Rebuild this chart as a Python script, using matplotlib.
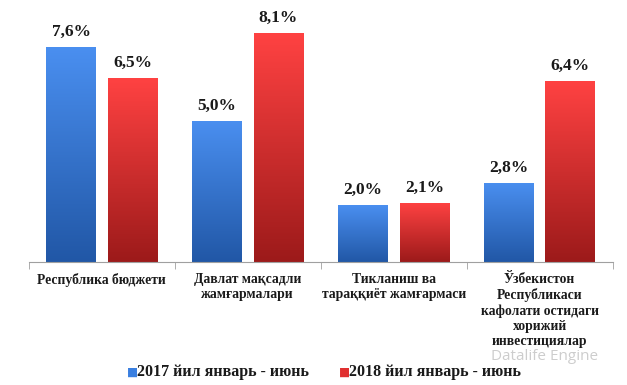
import matplotlib.pyplot as plt
import numpy as np
from matplotlib.colors import LinearSegmentedColormap

categories = ['Республика бюджети', 'Давлат мақсадли\nжамғармалари',
              'Тикланиш ва\nтараққиёт жамғармаси',
              'Ўзбекистон\nРеспубликаси\nкафолати остидаги\nхорижий\nинвестициялар']
values_2017 = [7.6, 5.0, 2.0, 2.8]
values_2018 = [6.5, 8.1, 2.1, 6.4]
labels_2017 = ['7,6%', '5,0%', '2,0%', '2,8%']
labels_2018 = ['6,5%', '8,1%', '2,1%', '6,4%']
series_names = ['2017 йил январь - июнь', '2018 йил январь - июнь']

blue_cmap = LinearSegmentedColormap.from_list('b', ['#2157a6', '#4a8ff0'])
red_cmap = LinearSegmentedColormap.from_list('r', ['#9c1a1a', '#ff4242'])

plt.rcParams['font.family'] = ['Liberation Serif', 'DejaVu Serif']

fig = plt.figure(figsize=(6.27, 3.85), dpi=100)
ax = fig.add_axes([0.046, 0.32, 0.931, 0.66])

x = np.arange(len(categories))
w = 0.34
off = 0.21
grad = np.linspace(0, 1, 256).reshape(-1, 1)


def draw_bars(xs, vals, cmap, labels):
    bars = ax.bar(xs, vals, width=w, color='none', edgecolor='none')
    for b, lab in zip(bars, labels):
        x0, h = b.get_x(), b.get_height()
        im = ax.imshow(grad, cmap=cmap, origin='lower', aspect='auto',
                       extent=[x0, x0 + w, 0, h], zorder=2)
        im.set_clip_path(b)
        ax.text(x0 + w / 2, h + 0.25, lab, ha='center', va='bottom',
                fontsize=12.5, fontweight='bold', color='#1a1a1a')
    return bars


draw_bars(x - off, values_2017, blue_cmap, labels_2017)
draw_bars(x + off, values_2018, red_cmap, labels_2018)

ax.set_xlim(-0.5, 3.5)
ax.set_ylim(0, 9)
ax.set_yticks([])
for s in ['top', 'right', 'left']:
    ax.spines[s].set_visible(False)
ax.spines['bottom'].set_color('#a0a0a0')
ax.set_xticks(x)
ax.set_xticklabels(categories, fontsize=9.8, fontweight='bold', color='#1a1a1a',
                   linespacing=1.2, va='top')
ax.tick_params(axis='x', which='major', length=0, pad=8)
ax.set_xticks(np.arange(-0.5, 4, 1), minor=True)
ax.tick_params(axis='x', which='minor', length=5, color='#a0a0a0')

# watermark from the source image
fig.text(0.954, 0.073, 'Datalife Engine', fontsize=11, color='#cdcdcd',
         ha='right', va='center', family='Open Sans', zorder=0)

# legend
fig.text(0.203, 0.034, '■', color='#3a7fe0', fontsize=8.5, va='center', ha='left',
         family='DejaVu Sans')
fig.text(0.219, 0.034, series_names[0], fontsize=11.5, fontweight='bold', va='center',
         ha='left', color='#1a1a1a')
fig.text(0.541, 0.034, '■', color='#e03030', fontsize=8.5, va='center', ha='left',
         family='DejaVu Sans')
fig.text(0.557, 0.034, series_names[1], fontsize=11.5, fontweight='bold', va='center',
         ha='left', color='#1a1a1a')

fig.savefig('out.png', dpi=100)
